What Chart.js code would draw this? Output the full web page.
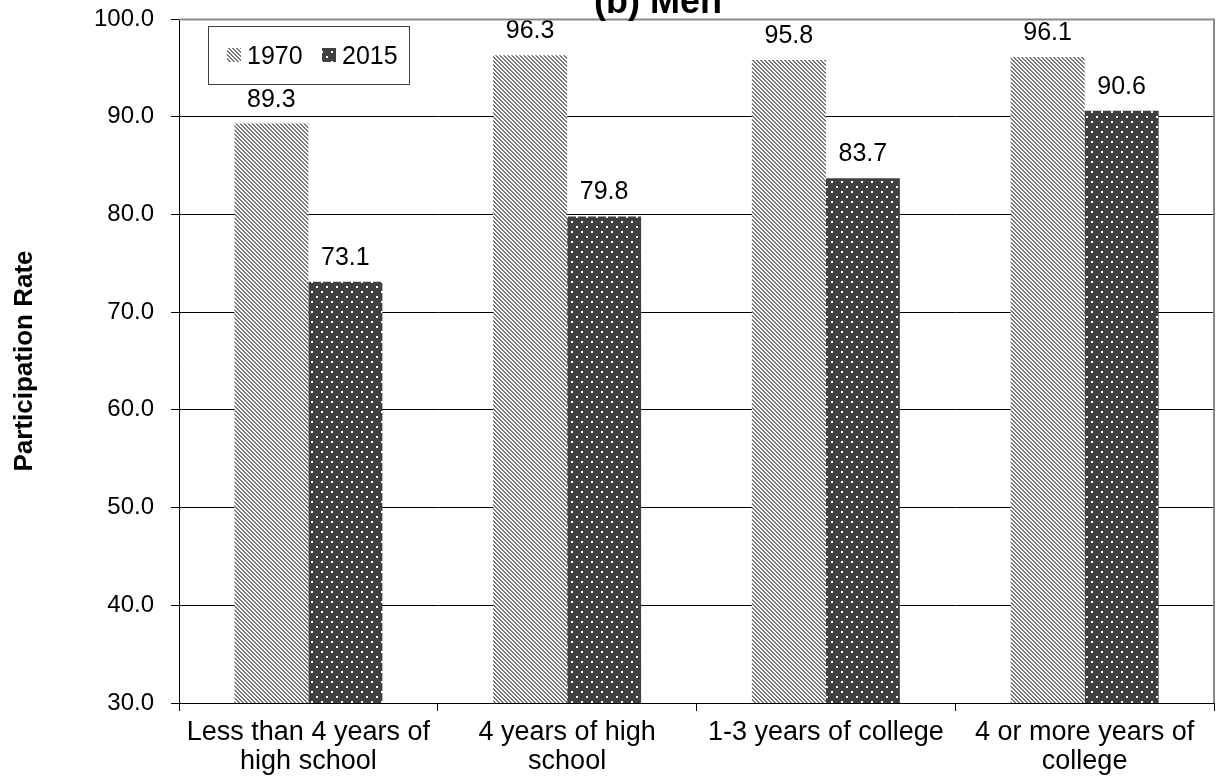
<!DOCTYPE html>
<html>
<head>
<meta charset="utf-8">
<script src="https://cdn.jsdelivr.net/npm/chart.js@4/dist/chart.umd.min.js"></script>
<style>
  html, body { margin: 0; padding: 0; background: #fff; }
  #wrap { width: 1221px; height: 781px; position: relative; }
</style>
</head>
<body>
<div id="wrap"><canvas id="chart"></canvas></div>
<script>
// chart data
const categories = [
    ['Less than 4 years of', 'high school'],
    ['4 years of high', 'school'],
    ['1-3 years of college'],
    ['4 or more years of', 'college']
];
const seriesNames = ['1970', '2015'];
const values1970 = [89.3, 96.3, 95.8, 96.1];
const values2015 = [73.1, 79.8, 83.7, 90.6];
const yMin = 30, yMax = 100, yStep = 10;
const chartTitle = '(b) Men';
const yTitle = 'Participation Rate';

const FONT = '"Liberation Sans", Arial, sans-serif';

// fill patterns like the excel ones
function stripePattern() {
    const c = document.createElement('canvas');
    c.width = 4; c.height = 4;
    const g = c.getContext('2d');
    g.fillStyle = '#ffffff';
    g.fillRect(0, 0, 4, 4);
    g.fillStyle = '#777777';
    for (let y = 0; y < 4; y++) {
        for (let x = 0; x < 4; x++) {
            if (((x - y) % 4 + 4) % 4 < 2) g.fillRect(x, y, 1, 1);
        }
    }
    return g.createPattern(c, 'repeat');
}
function dotPattern() {
    const c = document.createElement('canvas');
    c.width = 10; c.height = 10;
    const g = c.getContext('2d');
    g.fillStyle = '#404040';
    g.fillRect(0, 0, 10, 10);
    g.fillStyle = '#ffffff';
    g.fillRect(1, 1, 2, 2);
    g.fillRect(6, 6, 2, 2);
    return g.createPattern(c, 'repeat');
}
const fills = [stripePattern(), dotPattern()];

// value labels above the bars
const valueLabels = {
    id: 'valueLabels',
    afterDatasetsDraw(chart) {
        const ctx = chart.ctx;
        ctx.save();
        ctx.font = '25px ' + FONT;
        ctx.fillStyle = '#000';
        ctx.textAlign = 'center';
        ctx.textBaseline = 'alphabetic';
        chart.data.datasets.forEach((ds, i) => {
            chart.getDatasetMeta(i).data.forEach((bar, j) => {
                ctx.fillText(ds.data[j].toFixed(1), bar.x, bar.y - 17);
            });
        });
        ctx.restore();
    }
};

// gray frame on top/right, title and boxed legend
const decorations = {
    id: 'decorations',
    afterDraw(chart) {
        const ctx = chart.ctx;
        const a = chart.chartArea;
        ctx.save();
        ctx.strokeStyle = '#898989';
        ctx.lineWidth = 2;
        ctx.beginPath();
        ctx.moveTo(a.left, a.top + 0.5);
        ctx.lineTo(a.right, a.top + 0.5);
        ctx.lineTo(a.right, a.bottom);
        ctx.stroke();

        // title, mostly cut off at the top
        ctx.font = 'bold 36px ' + FONT;
        ctx.fillStyle = '#000';
        ctx.textAlign = 'center';
        ctx.textBaseline = 'alphabetic';
        ctx.fillText(chartTitle, 658, 13);

        // legend box
        ctx.fillStyle = '#fff';
        ctx.fillRect(208, 26, 201, 58);
        ctx.strokeStyle = '#404040';
        ctx.lineWidth = 1;
        ctx.strokeRect(208.5, 26.5, 201, 58);
        ctx.font = '25px ' + FONT;
        ctx.textAlign = 'left';
        const xs = [227, 322];
        chart.data.datasets.forEach((ds, i) => {
            ctx.fillStyle = ds.backgroundColor;
            ctx.fillRect(xs[i], 48, 14, 14);
            ctx.fillStyle = '#000';
            ctx.fillText(ds.label, xs[i] + 20, 64);
        });
        ctx.restore();
    }
};

new Chart(document.getElementById('chart'), {
    type: 'bar',
    data: {
        labels: categories,
        datasets: seriesNames.map((name, i) => ({
            label: name,
            data: i === 0 ? values1970 : values2015,
            backgroundColor: fills[i],
            borderWidth: 0,
            categoryPercentage: 0.572,
            barPercentage: 1.0
        }))
    },
    options: {
        responsive: true,
        maintainAspectRatio: false,
        animation: false,
        layout: { padding: { top: 19, right: 7, bottom: 0, left: 0 } },
        plugins: {
            legend: { display: false },
            title: { display: false },
            tooltip: { enabled: false }
        },
        scales: {
            x: {
                grid: {
                    drawOnChartArea: false,
                    drawTicks: true,
                    tickLength: 8,
                    color: '#000'
                },
                border: { display: true, color: '#000', width: 1 },
                ticks: {
                    color: '#000',
                    font: { family: FONT, size: 27, lineHeight: 1.08 },
                    padding: 7,
                    maxRotation: 0,
                    autoSkip: false
                },
                afterFit(scale) {
                    scale.height = 78;
                    scale.paddingLeft = 0;
                    scale.paddingRight = 0;
                }
            },
            y: {
                min: yMin,
                max: yMax,
                grid: {
                    color: '#000',
                    lineWidth: 1,
                    tickLength: 8
                },
                border: { display: true, color: '#000', width: 1 },
                ticks: {
                    stepSize: yStep,
                    color: '#000',
                    font: { family: FONT, size: 24 },
                    padding: 17,
                    callback: v => v.toFixed(1)
                },
                title: {
                    display: true,
                    text: yTitle,
                    color: '#000',
                    font: { family: FONT, size: 26, weight: 'bold' },
                    padding: { top: 9, bottom: 0 }
                },
                afterFit(scale) {
                    scale.width = 179;
                    // labels may hang over the top, don't reserve room for that
                    scale.paddingTop = 0;
                    scale.paddingBottom = 0;
                }
            }
        }
    },
    plugins: [valueLabels, decorations]
});
</script>
</body>
</html>
